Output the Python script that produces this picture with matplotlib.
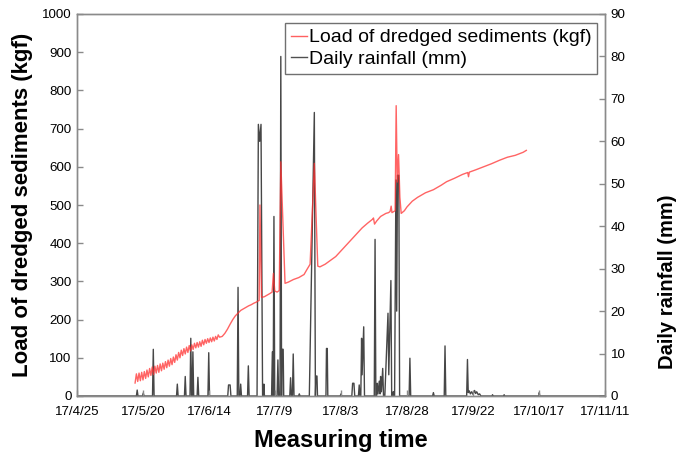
import matplotlib
matplotlib.use("Agg")
import matplotlib.pyplot as plt
from matplotlib.ticker import FixedLocator, FuncFormatter
import datetime as dt

plt.rcParams['font.family'] = ['Liberation Sans', 'DejaVu Sans']

# ---- data ----
base_date = dt.date(2017, 4, 25)
tick_days = [0, 25, 50, 75, 100, 125, 150, 175, 200]

# Load of dredged sediments (kgf): day offset from 2017-04-25, value
load_day = [22.0, 22.5, 23.0, 23.5, 24.0, 24.5, 25.0, 25.5, 26.0, 26.5, 27.0, 27.5,
            28.0, 28.5, 29.0, 29.5, 30.0, 30.5, 31.0, 31.5, 32.0, 32.5, 33.0, 33.5,
            34.0, 34.5, 35.0, 35.5, 36.0, 36.5, 37.0, 37.5, 38.0, 38.5, 39.0, 39.5,
            40.0, 40.5, 41.0, 41.5, 42.0, 42.5, 43.0, 43.5, 44.0, 44.5, 45.0, 45.5,
            46.0, 46.5, 47.0, 47.5, 48.0, 48.5, 49.0, 49.5, 50.0, 50.5, 51.0, 51.5,
            52.0, 52.5, 53.0, 53.5, 54.0,
            55, 56, 57, 58, 59, 60, 61, 62, 63, 64, 65, 66, 67, 68, 68.6, 69.0, 69.3, 69.9,
            71, 72, 73, 73.9, 74.4, 74.9, 75.8, 76.6, 77.2, 78.8,
            80, 82, 84, 86, 87, 88.3, 89.9, 91.2, 92, 94, 96, 98, 100, 102, 104, 106, 108,
            110, 112, 112.3, 112.7, 113.5, 115, 117, 118, 118.6, 119, 119.3, 120, 120.5,
            120.9, 121.3, 121.8, 122.3, 122.8, 124, 125, 127, 129, 132, 135, 138, 140,
            143, 146, 148, 148.3, 148.6, 151, 154, 157, 160, 163, 166, 169, 170.2]
load_kgf = [34, 58, 38, 60, 40, 62, 42, 64, 46, 68, 50, 72,
            54, 76, 56, 78, 60, 80, 62, 84, 66, 86, 70, 90,
            74, 94, 78, 98, 82, 102, 88, 108, 94, 114, 100, 120,
            106, 124, 110, 128, 114, 132, 118, 134, 122, 138, 126, 140,
            128, 142, 130, 146, 134, 148, 138, 150, 140, 152, 142, 154,
            144, 156, 148, 160, 154,
            156, 164, 175, 188, 200, 210, 217, 224, 228, 232, 236, 239, 243, 246, 249, 250, 500, 258,
            260, 264, 268, 272, 321, 275, 272, 276, 613, 295,
            298, 305, 310, 318, 330, 345, 609, 340, 338, 345, 355, 365, 380, 395, 410, 425, 440,
            452, 463, 466, 450, 458, 470, 478, 480, 483, 497, 480, 483, 485,
            760, 560, 632, 520, 478, 485, 495, 510, 520, 532, 540, 552, 561,
            570, 580, 585, 574, 586, 592, 600, 608, 617, 625, 630, 638, 643]

# Daily rainfall (mm): day offset from 2017-04-25, value
rain_day = [0,
            22.5, 22.8, 23.1, 24.8, 25.1, 25.4, 28.6, 28.9, 29.2,
            37.7, 38.0, 38.3, 40.7, 41.0, 41.3, 42.8, 43.1, 43.4, 43.6, 43.9, 44.2,
            45.5, 45.8, 46.1, 49.6, 49.9, 50.2, 57.1, 57.4, 58.0, 58.3,
            60.7, 61.0, 61.3, 61.7, 62.0, 62.3, 64.6, 64.9, 65.2,
            68.2, 68.7, 69.2, 69.7, 70.3, 70.6, 70.8, 71.0,
            73.7, 74.0, 74.3, 74.6, 74.9, 75.8, 76.1, 76.4,
            76.9, 77.2, 77.5, 77.6, 78.1, 78.3,
            80.6, 80.9, 81.2, 81.6, 81.9, 82.2, 83.9, 84.2, 84.5,
            88.0, 89.9, 90.3, 90.5, 90.9, 91.1,
            94.3, 94.5, 94.8, 95.0, 99.7, 100.0, 100.3,
            104.1, 104.4, 104.9, 105.2, 106.6, 106.9, 107.2,
            107.5, 107.8, 108.0, 108.6, 108.9,
            112.6, 112.9, 113.2, 113.5, 113.7, 114.0, 114.5, 114.8, 115.0, 115.3, 115.8, 116.1,
            116.6, 117.8, 118.1, 118.9, 119.2, 119.7, 119.8, 120.0,
            120.3, 120.8, 121.1, 121.4, 121.9, 122.2,
            125.8, 126.1, 126.4, 134.7, 135.0, 135.3, 139.1, 139.4, 139.7,
            147.6, 147.9, 148.2, 148.6, 149.0, 149.5, 150.0, 150.6, 151.0, 151.4, 152.0, 152.5, 153.0,
            157.2, 157.4, 157.6, 161.6, 161.8, 162.0, 175.0, 175.1, 175.3, 200]
rain_mm = [0,
           0, 1.4, 0, 0, 0.7, 0, 0, 11.0, 0,
           0, 2.8, 0, 0, 4.6, 0, 0, 13.6, 0, 0, 10.4, 0,
           0, 4.4, 0, 0, 10.2, 0, 0, 2.6, 2.6, 0,
           0, 25.6, 0, 0, 2.8, 0, 0, 7.1, 0,
           0, 64.0, 60.0, 64.0, 0, 0, 2.8, 0,
           0, 10.4, 0, 42.3, 0, 0, 8.5, 0,
           0, 80.0, 0, 11.0, 11.0, 0,
           0, 4.3, 0, 0, 9.9, 0, 0, 0.5, 0,
           0, 66.8, 0, 4.7, 4.7, 0,
           0, 11.2, 11.2, 0, 0, 0.5, 0,
           0, 3.0, 3.0, 0, 0, 2.6, 0,
           0, 13.6, 5.0, 16.3, 0,
           0, 36.9, 0, 0, 3.0, 0.5, 3.5, 0.5, 4.6, 1.0, 6.5, 0,
           0, 19.5, 5.0, 27.2, 0, 0, 1.0, 0,
           0, 50.9, 20.0, 52.0, 52.0, 0,
           0, 8.9, 0, 0, 0.8, 0, 0, 11.8, 0,
           0, 8.6, 0.8, 1.2, 0.5, 1.0, 0.4, 1.3, 0.6, 1.0, 0.3, 0.5, 0,
           0, 0.3, 0, 0, 0.3, 0, 0, 0.8, 0, 0]

load_label = "Load of dredged sediments (kgf)"
rain_label = "Daily rainfall (mm)"


def day_label(d, pos=None):
    day = base_date + dt.timedelta(days=int(round(d)))
    return f"{day.year % 100}/{day.month}/{day.day}"


fig = plt.figure(figsize=(6.77, 4.55), dpi=100)
ax = fig.add_axes([77/677, 1-396/455, (605-77)/677, (396-14)/455])
ax2 = ax.twinx()

l2, = ax2.plot(rain_day, rain_mm, color='black', alpha=0.72, lw=1.0, label=rain_label)
l1, = ax.plot(load_day, load_kgf, color='#ff3030', alpha=0.75, lw=1.0, label=load_label)
ax.set_zorder(ax2.get_zorder() + 1)
ax.patch.set_visible(False)

ax.set_xlim(0, 200)
ax.set_ylim(0, 1000)
ax2.set_ylim(0, 90)
ax.xaxis.set_major_locator(FixedLocator(tick_days))
ax.xaxis.set_major_formatter(FuncFormatter(day_label))
ax.set_yticks(range(0, 1001, 100))
ax2.set_yticks(range(0, 91, 10))

spine_c = '#8a8a8a'
for a in (ax, ax2):
    for s in a.spines.values():
        s.set_color(spine_c)
        s.set_linewidth(1.0)
    a.tick_params(direction='in', length=4, width=1, color=spine_c,
                  labelsize=9.6, labelcolor='black', pad=4)
ax.tick_params(axis='x', pad=7)

ax.set_xlabel("Measuring time", fontsize=17, fontweight='bold', labelpad=8)
ax.set_ylabel(load_label, fontsize=16, fontweight='bold')
ax.yaxis.set_label_coords(-0.083, 0.5)
ax2.set_ylabel(rain_label, fontsize=14.5, fontweight='bold')
ax2.yaxis.set_label_coords(1.100, 0.30)

leg = ax.legend([l1, l2], [load_label, rain_label], loc='upper right',
                bbox_to_anchor=(597/677, 1-23/455), bbox_transform=fig.transFigure,
                borderaxespad=0, fontsize=14, handlelength=0.8, handletextpad=0.1,
                labelspacing=0.2, borderpad=0.3, fancybox=False, framealpha=1)
leg.get_frame().set_edgecolor('#707070')
leg.get_frame().set_linewidth(1.0)
for h in leg.get_lines():
    h.set_alpha(1.0)
leg.get_lines()[0].set_color('#ff6060')
leg.get_lines()[1].set_color('#505050')

fig.savefig("out.png", dpi=100)
